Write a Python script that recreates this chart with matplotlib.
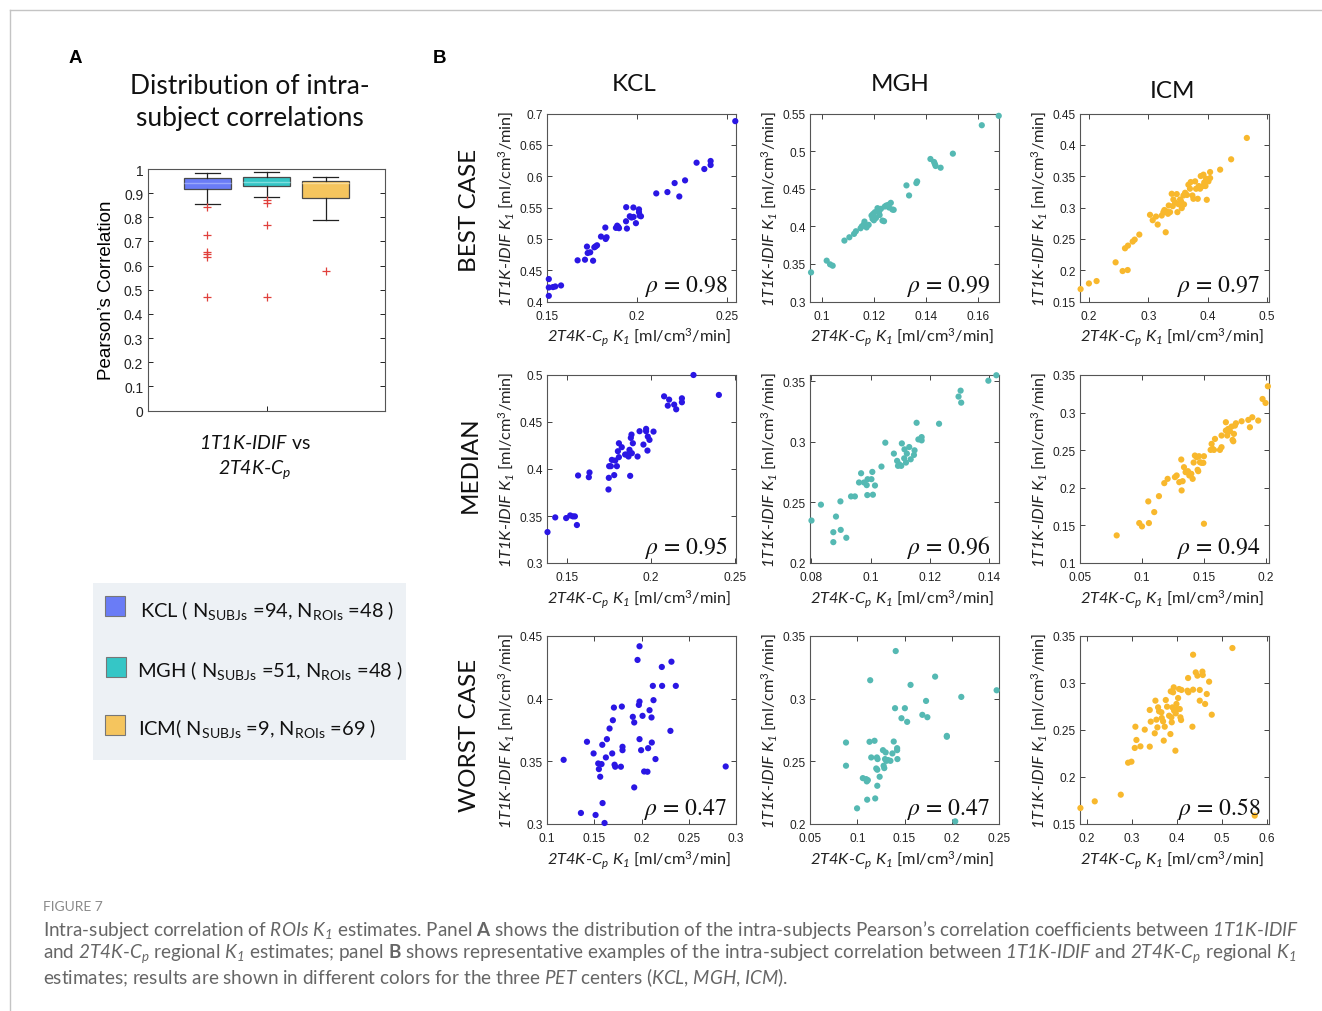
import matplotlib
matplotlib.use('Agg')
import matplotlib.pyplot as plt
from matplotlib.patches import Rectangle

plt.rcParams['font.family'] = ['Lato', 'DejaVu Sans']
plt.rcParams['mathtext.fontset'] = 'custom'
plt.rcParams['mathtext.rm'] = 'Lato'
plt.rcParams['mathtext.it'] = 'Lato:italic'
plt.rcParams['mathtext.cal'] = 'Lato:italic'
plt.rcParams['mathtext.bf'] = 'Lato:bold'

# ---------------- data ----------------
centers = ['KCL', 'MGH', 'ICM']
n_subjs = [94, 51, 9]
n_rois = [48, 48, 69]
box_colors = ['#6a7cf6', '#35c6c6', '#f5c55e']
median_colors = ['#9aa8fa', '#7fdede', '#f9dc98']
dot_colors = ['#2a16e4', '#55b9b3', '#f8b82d']

box_q1 = [0.917, 0.931, 0.880]
box_med = [0.942, 0.946, 0.942]
box_q3 = [0.962, 0.967, 0.952]
whisk_lo = [0.855, 0.886, 0.787]
whisk_hi = [0.984, 0.989, 0.967]
box_fliers = [[0.843, 0.726, 0.658, 0.648, 0.637, 0.471],
              [0.873, 0.861, 0.769, 0.471],
              [0.577]]
box_yticks = [0, 0.1, 0.2, 0.3, 0.4, 0.5, 0.6, 0.7, 0.8, 0.9, 1]

row_names = ['BEST CASE', 'MEDIAN', 'WORST CASE']
rho = [[0.98, 0.99, 0.97], [0.95, 0.96, 0.94], [0.47, 0.47, 0.58]]

kcl_best = [(0.151, 0.4358), (0.151, 0.4224), (0.151, 0.409), (0.1533, 0.423), (0.1546, 0.424),
            (0.1578, 0.4256), (0.167, 0.4657), (0.1711, 0.4667), (0.1722, 0.4876), (0.1726, 0.4774),
            (0.174, 0.4785), (0.1756, 0.4651), (0.1763, 0.4865), (0.177, 0.488), (0.1778, 0.4897),
            (0.18, 0.5036), (0.1824, 0.518), (0.1826, 0.4998), (0.1831, 0.5025), (0.1883, 0.5175),
            (0.189, 0.521), (0.1896, 0.519), (0.190, 0.517), (0.194, 0.5505), (0.1939, 0.528),
            (0.1944, 0.5164), (0.196, 0.536), (0.197, 0.534), (0.198, 0.55), (0.1981, 0.535),
            (0.1994, 0.525), (0.2011, 0.547), (0.2011, 0.5425), (0.2015, 0.537), (0.2022, 0.536),
            (0.2107, 0.5725), (0.2169, 0.5746), (0.2209, 0.589), (0.2235, 0.5676), (0.2267, 0.5933),
            (0.2331, 0.6215), (0.2374, 0.6114), (0.2409, 0.6242), (0.2409, 0.6178), (0.2546, 0.6878)]
mgh_best = [(0.0959, 0.3387), (0.1019, 0.3543), (0.1032, 0.3494), (0.1042, 0.3476), (0.1087, 0.381),
            (0.1106, 0.3854), (0.1124, 0.3899), (0.1131, 0.3934), (0.1149, 0.3974), (0.1154, 0.4),
            (0.1162, 0.4028), (0.1164, 0.4063), (0.118, 0.4019), (0.1191, 0.4143), (0.1197, 0.4165),
            (0.1195, 0.4099), (0.1204, 0.4188), (0.1214, 0.4241), (0.122, 0.4197), (0.1227, 0.4232),
            (0.1233, 0.4076), (0.1239, 0.4068), (0.1242, 0.4263), (0.1248, 0.4277), (0.1256, 0.4286),
            (0.1265, 0.4312), (0.1271, 0.4223), (0.1276, 0.4219), (0.1325, 0.4544), (0.1335, 0.441),
            (0.1363, 0.4575), (0.1366, 0.4597), (0.1417, 0.4895), (0.1431, 0.4855), (0.1434, 0.4828),
            (0.1437, 0.4802), (0.1456, 0.4779), (0.1503, 0.4966), (0.1614, 0.5344), (0.1679, 0.5469),
            (0.1172, 0.3985), (0.1208, 0.4110), (0.1200, 0.4080), (0.1222, 0.4150), (0.1258, 0.4250)]
icm_best = [(0.186, 0.1698), (0.2, 0.1788), (0.2129, 0.1826), (0.2449, 0.2125), (0.2567, 0.1986),
            (0.2652, 0.2002), (0.2607, 0.2349), (0.2657, 0.2392), (0.2736, 0.2456), (0.277, 0.2488),
            (0.2848, 0.2568), (0.3028, 0.2883), (0.3073, 0.2797), (0.3129, 0.2856), (0.3157, 0.2728),
            (0.3225, 0.2872), (0.3253, 0.2926), (0.3292, 0.2605), (0.3309, 0.2936), (0.3343, 0.3032),
            (0.3365, 0.2926), (0.3393, 0.3219), (0.341, 0.3022), (0.3421, 0.3128), (0.3478, 0.3214),
            (0.3489, 0.2926), (0.3506, 0.3054), (0.3534, 0.3128), (0.3562, 0.299), (0.359, 0.3192),
            (0.3618, 0.3235), (0.3674, 0.3363), (0.3713, 0.3406), (0.3741, 0.3192), (0.3758, 0.3139),
            (0.3787, 0.3417), (0.3803, 0.3299), (0.3831, 0.3139), (0.3848, 0.3342), (0.3882, 0.3502),
            (0.3916, 0.3342), (0.3927, 0.3524), (0.3961, 0.3342), (0.3972, 0.3459), (0.3983, 0.3123),
            (0.4011, 0.3417), (0.4039, 0.3566), (0.4039, 0.347), (0.4208, 0.3604), (0.4393, 0.3769),
            (0.4657, 0.411), (0.3270, 0.2960), (0.3330, 0.2900), (0.3450, 0.3080), (0.3550, 0.3100),
            (0.3650, 0.3200), (0.3700, 0.3300), (0.3870, 0.3300), (0.3940, 0.3400), (0.3600, 0.3050)]

kcl_median = [(0.1383, 0.3329), (0.1429, 0.3485), (0.1494, 0.3478), (0.1518, 0.3506), (0.1534, 0.3496),
              (0.1546, 0.3496), (0.1558, 0.3404), (0.1565, 0.3931), (0.1629, 0.3913), (0.1633, 0.3963),
              (0.1746, 0.3782), (0.1748, 0.3906), (0.175, 0.403), (0.176, 0.403), (0.1766, 0.4097),
              (0.178, 0.3935), (0.1786, 0.409), (0.1796, 0.403), (0.1802, 0.4189), (0.1808, 0.4126),
              (0.1808, 0.4274), (0.1825, 0.4232), (0.1845, 0.4154), (0.1855, 0.4154), (0.1865, 0.4133),
              (0.1871, 0.4204), (0.1875, 0.3927), (0.1879, 0.4331), (0.1883, 0.4366), (0.1885, 0.4168),
              (0.1891, 0.4274), (0.1919, 0.4133), (0.1931, 0.4402), (0.1954, 0.426), (0.197, 0.4427),
              (0.197, 0.4402), (0.1978, 0.4196), (0.198, 0.4345), (0.199, 0.431), (0.2014, 0.4398),
              (0.2077, 0.4773), (0.2099, 0.4674), (0.2107, 0.4738), (0.2137, 0.4685), (0.2149, 0.4635),
              (0.2183, 0.4752), (0.2183, 0.471), (0.2252, 0.5), (0.2403, 0.4788)]
mgh_median = [(0.08, 0.235), (0.0832, 0.2481), (0.0874, 0.2254), (0.0874, 0.2172), (0.0883, 0.2383),
              (0.0898, 0.2508), (0.0899, 0.2273), (0.0918, 0.2208), (0.0934, 0.2549), (0.0947, 0.2549),
              (0.0961, 0.2664), (0.0968, 0.274), (0.0978, 0.2664), (0.0987, 0.2642), (0.0989, 0.256),
              (0.099, 0.2691), (0.1003, 0.2691), (0.1006, 0.2751), (0.1008, 0.2563), (0.1015, 0.2639),
              (0.1037, 0.2795), (0.105, 0.2992), (0.1079, 0.2902), (0.109, 0.2842), (0.1093, 0.2801),
              (0.1097, 0.2814), (0.1104, 0.2801), (0.1106, 0.2986), (0.1114, 0.2863), (0.1115, 0.2937),
              (0.112, 0.2828), (0.1123, 0.2902), (0.1131, 0.2956), (0.1136, 0.2855), (0.1147, 0.2891),
              (0.1149, 0.2929), (0.1156, 0.3156), (0.1162, 0.3019), (0.1173, 0.3011), (0.1173, 0.3038),
              (0.1232, 0.3148), (0.1298, 0.3372), (0.1305, 0.3421), (0.1307, 0.3322), (0.1399, 0.3503),
              (0.1426, 0.3548)]
icm_median = [(0.0796, 0.1367), (0.0978, 0.1531), (0.1, 0.1487), (0.1051, 0.1819), (0.1056, 0.1531),
              (0.1099, 0.1677), (0.1137, 0.1889), (0.118, 0.2062), (0.1207, 0.2119), (0.1266, 0.2142),
              (0.128, 0.2164), (0.1301, 0.2075), (0.1317, 0.2376), (0.132, 0.1965), (0.1328, 0.2088),
              (0.1339, 0.2274), (0.1352, 0.2208), (0.1371, 0.2221), (0.1382, 0.2164), (0.1398, 0.2186),
              (0.1409, 0.2119), (0.1417, 0.2336), (0.1427, 0.2429), (0.1441, 0.2407), (0.1449, 0.2239),
              (0.1454, 0.2221), (0.146, 0.242), (0.1468, 0.234), (0.1481, 0.2332), (0.1495, 0.2332),
              (0.15, 0.242), (0.15, 0.1522), (0.1554, 0.2504), (0.1562, 0.2584), (0.157, 0.2518),
              (0.1581, 0.2504), (0.1589, 0.265), (0.1629, 0.2504), (0.1642, 0.254), (0.1642, 0.2695),
              (0.1677, 0.2872), (0.1677, 0.2761), (0.1688, 0.2695), (0.1696, 0.2783), (0.171, 0.2752),
              (0.1723, 0.2814), (0.1731, 0.2637), (0.1737, 0.2619), (0.1742, 0.2717), (0.175, 0.2827),
              (0.1758, 0.2858), (0.1804, 0.2885), (0.1858, 0.2903), (0.1871, 0.2805), (0.189, 0.2938),
              (0.1938, 0.2894), (0.1973, 0.3181), (0.1997, 0.3128), (0.2016, 0.335)]

kcl_worst = [(0.1176, 0.3512), (0.1359, 0.3088), (0.1423, 0.3656), (0.1493, 0.3563), (0.1514, 0.3072),
             (0.1542, 0.3483), (0.1549, 0.3438), (0.1563, 0.3377), (0.1577, 0.3478), (0.1585, 0.3632),
             (0.1588, 0.3167), (0.1609, 0.3008), (0.1623, 0.3531), (0.1634, 0.3677), (0.1662, 0.3762),
             (0.169, 0.3563), (0.1697, 0.3828), (0.1708, 0.3929), (0.1715, 0.3473), (0.1722, 0.3457),
             (0.1782, 0.3457), (0.1792, 0.3937), (0.1799, 0.3616), (0.1799, 0.3589), (0.1908, 0.3855),
             (0.1923, 0.381), (0.1923, 0.3292), (0.1958, 0.4309), (0.1972, 0.395), (0.1979, 0.3977),
             (0.1979, 0.3677), (0.1979, 0.4418), (0.1996, 0.3589), (0.2011, 0.3863), (0.2028, 0.3419),
             (0.2063, 0.3417), (0.207, 0.3605), (0.2085, 0.3908), (0.2106, 0.385), (0.2109, 0.365),
             (0.212, 0.4102), (0.2127, 0.3988), (0.2148, 0.3518), (0.2215, 0.4253), (0.2218, 0.4102),
             (0.2306, 0.3743), (0.2317, 0.4295), (0.2363, 0.4102), (0.2891, 0.3459)]
mgh_worst = [(0.0881, 0.265), (0.0881, 0.2465), (0.0998, 0.2125), (0.1059, 0.2366), (0.1094, 0.2358),
             (0.1101, 0.234), (0.1112, 0.235), (0.1105, 0.2194), (0.113, 0.2656), (0.1137, 0.3147),
             (0.1148, 0.2531), (0.1183, 0.2664), (0.119, 0.2204), (0.1201, 0.2443), (0.1208, 0.2531),
             (0.1212, 0.2433), (0.1215, 0.2518), (0.1212, 0.2305), (0.1237, 0.2377), (0.1272, 0.2589),
             (0.1279, 0.2465), (0.1286, 0.2446), (0.1294, 0.2518), (0.1301, 0.2571), (0.1308, 0.2504),
             (0.1326, 0.251), (0.1351, 0.2504), (0.1372, 0.2563), (0.1386, 0.2658), (0.14, 0.2924),
             (0.1407, 0.338), (0.1422, 0.2605), (0.1422, 0.2589), (0.1425, 0.2518), (0.1468, 0.2844),
             (0.1504, 0.2924), (0.1528, 0.2815), (0.1564, 0.311), (0.1689, 0.2871), (0.1728, 0.2982),
             (0.1742, 0.2852), (0.1824, 0.3176), (0.1948, 0.2703), (0.1948, 0.2696), (0.2037, 0.2021),
             (0.2101, 0.3014), (0.2475, 0.3067)]
icm_worst = [(0.1859, 0.167), (0.2178, 0.1741), (0.2756, 0.1812), (0.2919, 0.2152), (0.2993, 0.2163),
             (0.3067, 0.2309), (0.3081, 0.2535), (0.3104, 0.2394), (0.3193, 0.2326), (0.3289, 0.2504),
             (0.34, 0.2323), (0.34, 0.2713), (0.3422, 0.2589), (0.3511, 0.2465), (0.3526, 0.2812),
             (0.3548, 0.261), (0.357, 0.2528), (0.3585, 0.2741), (0.3607, 0.2699), (0.3659, 0.2688),
             (0.3667, 0.2628), (0.3696, 0.2592), (0.3711, 0.2387), (0.3733, 0.2535), (0.3756, 0.2819),
             (0.3785, 0.2748), (0.383, 0.2652), (0.3859, 0.2457), (0.3867, 0.2911), (0.3881, 0.2635),
             (0.3889, 0.2582), (0.3904, 0.2741), (0.3919, 0.2901), (0.3933, 0.2954), (0.3941, 0.2706),
             (0.397, 0.228), (0.3978, 0.2677), (0.3993, 0.2777), (0.4007, 0.2723), (0.403, 0.284),
             (0.4052, 0.2936), (0.4067, 0.2723), (0.4081, 0.2635), (0.4096, 0.2606), (0.4104, 0.2926),
             (0.4237, 0.2918), (0.4252, 0.3053), (0.4259, 0.2901), (0.4348, 0.2535), (0.4363, 0.2929),
             (0.4363, 0.3301), (0.4422, 0.3113), (0.4459, 0.3078), (0.4511, 0.2926), (0.4511, 0.2812),
             (0.457, 0.3121), (0.4578, 0.3085), (0.463, 0.2777), (0.4667, 0.2883), (0.4719, 0.3014),
             (0.4778, 0.2663), (0.5237, 0.3372), (0.5733, 0.1589)]

panels = [[kcl_best, mgh_best, icm_best],
          [kcl_median, mgh_median, icm_median],
          [kcl_worst, mgh_worst, icm_worst]]

xlims = [[(0.15, 0.255), (0.0955, 0.168), (0.185, 0.503)],
         [(0.138, 0.2505), (0.0795, 0.1435), (0.05, 0.2025)],
         [(0.1, 0.3), (0.05, 0.25), (0.185, 0.605)]]
ylims = [[(0.4, 0.7), (0.3, 0.55), (0.15, 0.45)],
         [(0.3, 0.5), (0.2, 0.355), (0.1, 0.35)],
         [(0.3, 0.45), (0.2, 0.35), (0.15, 0.35)]]
xticks = [[[0.15, 0.2, 0.25], [0.1, 0.12, 0.14, 0.16], [0.2, 0.3, 0.4, 0.5]],
          [[0.15, 0.2, 0.25], [0.08, 0.1, 0.12, 0.14], [0.05, 0.1, 0.15, 0.2]],
          [[0.1, 0.15, 0.2, 0.25, 0.3], [0.05, 0.1, 0.15, 0.2, 0.25], [0.2, 0.3, 0.4, 0.5, 0.6]]]
yticks = [[[0.4, 0.45, 0.5, 0.55, 0.6, 0.65, 0.7], [0.3, 0.35, 0.4, 0.45, 0.5, 0.55],
           [0.15, 0.2, 0.25, 0.3, 0.35, 0.4, 0.45]],
          [[0.3, 0.35, 0.4, 0.45, 0.5], [0.2, 0.25, 0.3, 0.35], [0.1, 0.15, 0.2, 0.25, 0.3, 0.35]],
          [[0.3, 0.35, 0.4, 0.45], [0.2, 0.25, 0.3, 0.35], [0.15, 0.2, 0.25, 0.3, 0.35]]]

# ---------------- figure ----------------
W, H = 1322, 1012
fig = plt.figure(figsize=(W / 100, H / 100), dpi=100)
fig.patch.set_facecolor('white')


def fr(x0, y0, x1, y1):
    return [x0 / W, 1 - y1 / H, (x1 - x0) / W, (y1 - y0) / H]


ov = fig.add_axes([0, 0, 1, 1], zorder=-1)
ov.set_xlim(0, W)
ov.set_ylim(H, 0)
ov.axis('off')

TICK_FONT = dict(family='Liberation Sans', size=8.6)

# frame lines
ov.plot([10, W], [11, 11], color='#c4c4c4', lw=1.0)
ov.plot([10, 10], [11, H], color='#c4c4c4', lw=1.0)

# ---------------- Panel A ----------------
ov.text(75, 58, 'A', fontsize=13.5, fontweight='bold', family='Liberation Sans', ha='center', va='center')
ov.text(440, 58, 'B', fontsize=13.5, fontweight='bold', family='Liberation Sans', ha='center', va='center')
ov.text(250, 102, 'Distribution of intra-\nsubject correlations', fontsize=19, ha='center',
        va='center', linespacing=1.35, color='#111')

axb = fig.add_axes(fr(148, 170, 385, 411.5))
stats = []
for i in range(3):
    stats.append(dict(med=box_med[i], q1=box_q1[i], q3=box_q3[i], whislo=whisk_lo[i],
                      whishi=whisk_hi[i], fliers=box_fliers[i]))
bp = axb.bxp(stats, positions=[1, 2, 3], widths=0.8, capwidths=0.42, patch_artist=True,
             boxprops=dict(edgecolor='#4a4a4a', linewidth=0.9),
             whiskerprops=dict(color='#222', linewidth=0.9, linestyle='-'),
             capprops=dict(color='#222', linewidth=0.9),
             medianprops=dict(linewidth=1.0),
             flierprops=dict(marker='+', markeredgecolor='#e0403c', markersize=5.5,
                             markeredgewidth=0.9, linestyle='none'))
for patch, c in zip(bp['boxes'], box_colors):
    patch.set_facecolor(c)
for med, c in zip(bp['medians'], median_colors):
    med.set_color(c)
axb.set_xlim(0, 4)
axb.set_ylim(0, 1)
axb.set_yticks(box_yticks)
axb.set_yticklabels(['%g' % v for v in box_yticks], fontdict=dict(family='Liberation Sans', size=10))
axb.set_xticks([2])
axb.set_xticklabels([''])
axb.tick_params(direction='in', right=True, top=False, length=3.5, width=0.7, colors='#222')
for s in axb.spines.values():
    s.set_color('#555')
    s.set_linewidth(0.8)
axb.set_ylabel('Pearson’s Correlation', family='Liberation Sans', fontsize=13.5, labelpad=6)

ov.text(255, 443, r'$\mathcal{1T1K}$-$\mathcal{IDIF}$ vs', fontsize=14, ha='center', va='center', color='#111')
ov.text(255, 470, r'$\mathcal{2T4K}$-$\mathcal{C}_\mathcal{p}$', fontsize=14, ha='center', va='center', color='#111')

# legend box
ov.add_patch(Rectangle((93, 584), 313, 177, facecolor='#edf1f5', edgecolor='none'))
leg_y = [607, 668, 726]
leg_tx = [140, 137, 138]
leg_px = [105, 106, 105]
for i in range(3):
    ov.add_patch(Rectangle((leg_px[i], leg_y[i] - 10), 20, 20, facecolor=box_colors[i],
                           edgecolor='#777', lw=0.8))
    sep = ' ' if i < 2 else ''
    ov.text(leg_tx[i], leg_y[i] + 3,
            r'%s%s( N$_{\mathrm{SUBJs}}$ =%d, N$_{\mathrm{ROIs}}$ =%d )' % (centers[i], sep, n_subjs[i], n_rois[i]),
            fontsize=14.4, va='center', ha='left', color='#111')

# ---------------- Panel B ----------------
cols_left = [547, 810, 1080]
rows_top = [114.5, 376, 637]
AW, AH = 189, 188
col_title_y = [84, 84, 91]
col_title_x = [634, 900, 1173]
for c in range(3):
    ov.text(col_title_x[c], col_title_y[c], centers[c], fontsize=17.5, ha='center', va='center', color='#111')
row_label_y = [210, 465, 735]
for r in range(3):
    ov.text(470, row_label_y[r], row_names[r], fontsize=17.5, rotation=90, ha='center', va='center', color='#111')

ylab = r'$\mathcal{1T1K}$-$\mathcal{IDIF}$ $\mathcal{K}_\mathcal{1}$ [ml/cm$^3$/min]'
xlab = r'$\mathcal{2T4K}$-$\mathcal{C}_\mathcal{p}$ $\mathcal{K}_\mathcal{1}$ [ml/cm$^3$/min]'

for r in range(3):
    for c in range(3):
        ax = fig.add_axes(fr(cols_left[c], rows_top[r], cols_left[c] + AW, rows_top[r] + AH))
        pts = panels[r][c]
        xs = [p[0] for p in pts]
        ys = [p[1] for p in pts]
        ax.scatter(xs, ys, s=20, color=dot_colors[c], edgecolors='none', zorder=3, clip_on=False)
        ax.set_xlim(*xlims[r][c])
        ax.set_ylim(*ylims[r][c])
        ax.set_xticks(xticks[r][c])
        ax.set_xticklabels(['%g' % v for v in xticks[r][c]], fontdict=TICK_FONT)
        ax.set_yticks(yticks[r][c])
        ax.set_yticklabels(['%g' % v for v in yticks[r][c]], fontdict=TICK_FONT)
        ax.tick_params(direction='in', right=True, top=True, length=3.5, width=0.6,
                       colors='#222')
        ax.tick_params(axis='x', pad=6)
        ax.tick_params(axis='y', pad=3)
        for s in ax.spines.values():
            s.set_color('#555')
            s.set_linewidth(0.8)
        ax.set_ylabel(ylab, fontsize=11.8, color='#222')
        ax.yaxis.set_label_coords(-0.165, 0.5)
        ax.set_xlabel(xlab, fontsize=11.8, color='#222')
        ax.xaxis.set_label_coords(0.49, -0.13)
        ax.text(0.955, 0.055, r'$\rho$ = %.2f' % rho[r][c], transform=ax.transAxes,
                ha='right', va='baseline', fontsize=17, color='#111',
                family='STIXGeneral', math_fontfamily='stix')

# ---------------- caption ----------------
ov.text(43, 907, 'FIGURE 7', fontsize=10, color='#8a8a8a', va='center', ha='left')
cap1 = (r'Intra-subject correlation of $\mathcal{ROIs}$ $\mathcal{K}_\mathcal{1}$ estimates. Panel $\mathbf{A}$ shows the '
        r'distribution of the intra-subjects Pearson’s correlation coefficients between '
        r'$\mathcal{1T1K}$-$\mathcal{IDIF}$')
cap2 = (r'and $\mathcal{2T4K}$-$\mathcal{C}_\mathcal{p}$ regional $\mathcal{K}_\mathcal{1}$ estimates; panel $\mathbf{B}$ shows representative '
        r'examples of the intra-subject correlation between $\mathcal{1T1K}$-$\mathcal{IDIF}$ and '
        r'$\mathcal{2T4K}$-$\mathcal{C}_\mathcal{p}$ regional $\mathcal{K}_\mathcal{1}$')
cap3 = (r'estimates; results are shown in different colors for the three $\mathcal{PET}$ centers '
        r'($\mathcal{KCL}$, $\mathcal{MGH}$, $\mathcal{ICM}$).')
cap_y = [930, 954, 978]
caps = []
for t, yy in zip([cap1, cap2, cap3], cap_y):
    caps.append(ov.text(43, yy, t, fontsize=12, color='#666', va='center', ha='left'))
fig.canvas.draw()
rend = fig.canvas.get_renderer()
wpx = caps[0].get_window_extent(rend).width
fs = 12 * 1252.0 / wpx
for t in caps:
    t.set_fontsize(fs)

fig.savefig('out.png', dpi=100, facecolor='white')
